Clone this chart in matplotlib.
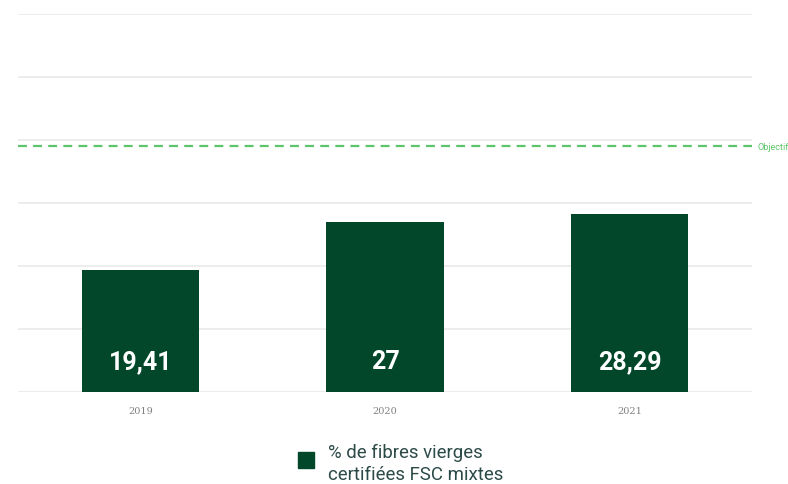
import matplotlib.pyplot as plt
from matplotlib.patches import Rectangle

years = ["2019", "2020", "2021"]
values = [19.41, 27, 28.29]
value_labels = ["19,41", "27", "28,29"]
objective = 39
legend_label = "% de fibres vierges\ncertifiées FSC mixtes"

bar_color = "#03472a"
obj_color = "#5cc46a"

plt.rcParams['font.family'] = ['Roboto', 'DejaVu Sans']

fig = plt.figure(figsize=(7.88, 4.85), dpi=100)
ax = fig.add_axes([18 / 788, 92 / 485, 734 / 788, 378 / 485])

x = range(len(years))
ax.bar(x, values, width=0.48, color=bar_color, zorder=3)
for xi, lab in zip(x, value_labels):
    ax.annotate(lab, (xi, 0), xytext=(0, 22), textcoords="offset points",
                ha="center", va="center", color="white", fontsize=18,
                fontweight="bold", zorder=4)

ax.axhline(objective, color=obj_color, linestyle=(0, (4, 2.8)), linewidth=1.6, zorder=2)
ax.annotate("Objectif", (2.5, objective), xytext=(4, 0), textcoords="offset points",
            color=obj_color, fontsize=6.6, va="center", ha="left", annotation_clip=False)

ax.set_xlim(-0.5, 2.5)
ax.set_ylim(0, 60)
ax.set_yticks(range(0, 61, 10))
ax.set_yticklabels([])
ax.grid(axis="y", color="#ededed", linewidth=1.4, zorder=0)
ax.set_xticks(list(x))
ax.set_xticklabels(years, fontsize=7, color="#808080", family="DejaVu Serif")
ax.tick_params(length=0, pad=10)
for s in ax.spines.values():
    s.set_visible(False)

fig.patches.append(Rectangle((298 / 788, 16 / 485), 16 / 788, 16 / 485,
                             transform=fig.transFigure, color=bar_color))
fig.text(328 / 788, 21 / 485, legend_label, fontsize=13.4, color="#2c4a48",
         va="center", ha="left", linespacing=1.33)

fig.savefig("out.png", dpi=100)
